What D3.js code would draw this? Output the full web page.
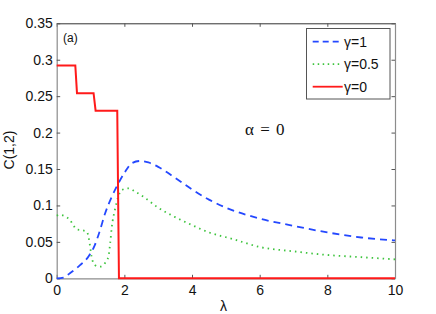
<!DOCTYPE html>
<head>
  <meta charset="utf-8">
  <script src="https://d3js.org/d3.v7.min.js"></script>
  <style>
    body { margin: 0; background: #fff; }
    svg { display: block; font-family: "Liberation Sans", Arial, sans-serif; }
  </style>
</head>
<body>
  <svg width="436" height="314"></svg>
  <script>
    // gamma = 1 (blue dashed)
    var blueL = [0, 0.2, 0.39, 0.69, 0.94, 1.13, 1.28, 1.43, 1.63, 1.82, 2.02, 2.22, 2.46, 2.71, 3, 3.5, 4, 4.5, 5, 6, 7, 8, 9, 10];
    var blueV = [0, 0.001, 0.007, 0.018, 0.030, 0.046, 0.066, 0.089, 0.112, 0.130, 0.146, 0.158, 0.161, 0.159, 0.153, 0.138, 0.122, 0.108, 0.097, 0.082, 0.072, 0.063, 0.056, 0.052];
    // gamma = 0.5 (green dotted)
    var greenL = [0, 0.1, 0.25, 0.39, 0.49, 0.59, 0.74, 0.89, 0.94, 0.99, 1.03, 1.13, 1.28, 1.43, 1.53, 1.58, 1.63, 1.72, 1.82, 1.92, 2.12, 2.32, 2.56, 3, 3.5, 4, 4.5, 5.2, 6, 7, 8, 9, 10];
    var greenV = [0.086, 0.087, 0.085, 0.080, 0.073, 0.067, 0.066, 0.064, 0.057, 0.043, 0.030, 0.018, 0.016, 0.021, 0.030, 0.048, 0.071, 0.094, 0.112, 0.121, 0.1235, 0.119, 0.112, 0.097, 0.084, 0.073, 0.063, 0.054, 0.043, 0.037, 0.032, 0.029, 0.026];
    // gamma = 0 (red solid, steps)
    var redL = [0, 0.55, 0.6, 1.09, 1.15, 1.79, 1.84, 10];
    var redV = [0.292, 0.292, 0.254, 0.254, 0.230, 0.230, 0, 0];

    var xTicks = [0, 2, 4, 6, 8, 10];
    var yTicks = [0, 0.05, 0.1, 0.15, 0.2, 0.25, 0.3, 0.35];
    var legendLabels = ['\u03b3=1', '\u03b3=0.5', '\u03b3=0'];

    var margin = { left: 56.7, top: 23.3, right: 395, bottom: 278.3 };

    var svg = d3.select('svg');
    svg.append('rect').attr('width', 436).attr('height', 314).attr('fill', '#fff');

    var x = d3.scaleLinear().domain([0, 10]).range([margin.left, margin.right]);
    var y = d3.scaleLinear().domain([0, 0.35]).range([margin.bottom, margin.top]);

    var fmt = function (d) { return String(+d.toFixed(2)); };

    // axes with inward ticks
    var gx = svg.append('g')
      .attr('transform', `translate(0, ${margin.bottom})`)
      .call(d3.axisBottom(x).tickValues(xTicks).tickSizeInner(-3.5).tickSizeOuter(0).tickPadding(5).tickFormat(fmt));
    var gxt = svg.append('g')
      .attr('transform', `translate(0, ${margin.top})`)
      .call(d3.axisTop(x).tickValues(xTicks).tickSizeInner(-3.5).tickSizeOuter(0).tickFormat(''));
    var gy = svg.append('g')
      .attr('transform', `translate(${margin.left}, 0)`)
      .call(d3.axisLeft(y).tickValues(yTicks).tickSizeInner(-3.5).tickSizeOuter(0).tickPadding(4).tickFormat(fmt));
    var gyr = svg.append('g')
      .attr('transform', `translate(${margin.right}, 0)`)
      .call(d3.axisRight(y).tickValues(yTicks).tickSizeInner(-3.5).tickSizeOuter(0).tickFormat(''));

    [gx, gy, gyr].forEach(function (g) { g.select('.domain').attr('stroke', '#8c8c8c').attr('stroke-width', 1.2); });
    gxt.select('.domain').attr('stroke', '#333').attr('stroke-width', 1);
    svg.selectAll('.tick line').attr('stroke', '#555');
    svg.selectAll('.tick text').attr('font-size', 14).attr('fill', '#111')
      .attr('font-family', '"Liberation Sans", Arial, sans-serif');
    gx.selectAll('.tick text').attr('dy', '0.85em');

    // curves
    var line = d3.line().x(function (d) { return x(d[0]); }).y(function (d) { return y(d[1]); });
    var smooth = d3.line().curve(d3.curveMonotoneX).x(function (d) { return x(d[0]); }).y(function (d) { return y(d[1]); });

    svg.append('path')
      .attr('d', smooth(d3.zip(greenL, greenV)))
      .attr('fill', 'none').attr('stroke', '#3ec43e').attr('stroke-width', 1.8)
      .attr('stroke-dasharray', '1.5,4');
    svg.append('path')
      .attr('d', smooth(d3.zip(blueL, blueV)))
      .attr('fill', 'none').attr('stroke', '#2448ff').attr('stroke-width', 1.8)
      .attr('stroke-dasharray', '7,5');
    svg.append('path')
      .attr('d', line(d3.zip(redL, redV)))
      .attr('fill', 'none').attr('stroke', '#ff1a1a').attr('stroke-width', 2);

    // axis labels
    svg.append('text')
      .attr('transform', 'translate(14, 150) rotate(-90)')
      .attr('text-anchor', 'middle')
      .attr('font-size', 14).attr('fill', '#111')
      .text('C(1,2)');
    svg.append('text')
      .attr('x', 223.5).attr('y', 311)
      .attr('text-anchor', 'middle')
      .attr('font-size', 14).attr('fill', '#111')
      .text('\u03bb');

    // annotations
    svg.append('text')
      .attr('x', 63).attr('y', 42)
      .attr('font-size', 12).attr('fill', '#111')
      .text('(a)');
    svg.append('text')
      .attr('x', 245).attr('y', 134.5)
      .attr('font-family', '"Liberation Serif", "Times New Roman", serif')
      .attr('font-size', 17).attr('fill', '#111')
      .attr('word-spacing', 2)
      .text('\u03b1 = 0');

    // legend
    var legend = svg.append('g');
    legend.append('rect')
      .attr('x', 306.5).attr('y', 28.5).attr('width', 83.5).attr('height', 70.5)
      .attr('fill', '#fff').attr('stroke', '#555').attr('stroke-width', 1);
    var styles = [
      { stroke: '#2448ff', dash: '6,4' },
      { stroke: '#3ec43e', dash: '1.5,3.5' },
      { stroke: '#ff1a1a', dash: null }
    ];
    legendLabels.forEach(function (lab, i) {
      var yy = 41.7 + i * 22.5;
      legend.append('line')
        .attr('x1', 312.7).attr('x2', 342.7).attr('y1', yy).attr('y2', yy)
        .attr('stroke', styles[i].stroke).attr('stroke-width', 1.8)
        .attr('stroke-dasharray', styles[i].dash);
      legend.append('text')
        .attr('x', 344).attr('y', yy + 5)
        .attr('font-size', 14).attr('fill', '#111')
        .text(lab);
    });
  </script>
</body>
